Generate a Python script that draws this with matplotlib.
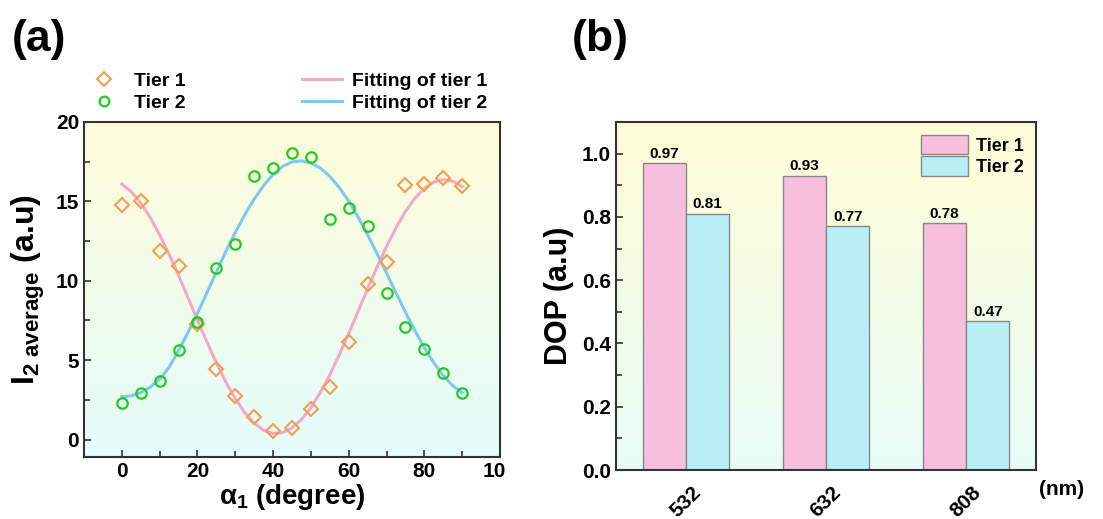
import numpy as np
import matplotlib
matplotlib.use("Agg")
import matplotlib.pyplot as plt
from matplotlib.patches import Rectangle
from matplotlib.lines import Line2D
from matplotlib.ticker import MultipleLocator, FormatStrFormatter

plt.rcParams['font.family'] = ['Liberation Sans', 'DejaVu Sans']
plt.rcParams['font.weight'] = 'bold'
plt.rcParams['mathtext.fontset'] = 'custom'
plt.rcParams['mathtext.rm'] = 'Liberation Sans:bold'
plt.rcParams['mathtext.bf'] = 'Liberation Sans:bold'
plt.rcParams['mathtext.it'] = 'Liberation Sans:bold'

# ---------------- data: panel (a) ----------------
angle = [0, 5, 10, 15, 20, 25, 30, 35, 40, 45, 50, 55, 60, 65, 70, 75, 80, 85, 90]
tier1 = [14.8, 15.0, 11.9, 10.9, 7.3, 4.47, 2.77, 1.43, 0.52, 0.73, 1.93, 3.29,
         6.16, 9.81, 11.2, 16.0, 16.1, 16.5, 15.96]
tier2 = [2.3, 2.96, 3.67, 5.64, 7.38, 10.78, 12.33, 16.6, 17.07, 18.07, 17.8, 13.9,
         14.57, 13.44, 9.22, 7.06, 5.72, 4.21, 2.96]

fit_angle = [0, 2.5, 5, 7.5, 10, 12.5, 15, 17.5, 20, 22.5, 25, 27.5, 30, 32.5, 35,
             37.5, 40, 42.5, 45, 47.5, 50, 52.5, 55, 57.5, 60, 62.5, 65, 67.5, 70,
             72.5, 75, 77.5, 80, 82.5, 85, 87.5, 90]
fit_tier1 = [16.09, 15.60, 14.89, 13.98, 12.89, 11.66, 10.33, 8.93, 7.52, 6.14, 4.83,
             3.62, 2.57, 1.69, 1.02, 0.58, 0.38, 0.43, 0.73, 1.26, 2.01, 2.97, 4.08,
             5.34, 6.69, 8.09, 9.50, 10.87, 12.16, 13.34, 14.36, 15.20, 15.82, 16.22,
             16.37, 16.27, 15.93]
fit_tier2 = [2.70, 2.75, 2.95, 3.30, 3.80, 4.55, 5.60, 6.75, 7.95, 9.25, 10.55, 11.85,
             13.05, 14.15, 15.15, 16.00, 16.70, 17.20, 17.48, 17.55, 17.42, 17.10,
             16.57, 15.87, 15.01, 14.00, 12.89, 11.70, 10.48, 9.23, 8.01, 6.85, 5.78,
             4.83, 4.03, 3.39, 2.95]

# ---------------- data: panel (b) ----------------
wavelengths = ['532', '632', '808']
dop_tier1 = [0.97, 0.93, 0.78]
dop_tier2 = [0.81, 0.77, 0.47]

fig = plt.figure(figsize=(11.03, 5.19), dpi=100)


def gradient_bg(ax, top, bottom):
    t = np.array(top) / 255.0
    b = np.array(bottom) / 255.0
    f = np.linspace(0, 1, 256)[:, None]
    img = (t[None, :] * (1 - f) + b[None, :] * f)[:, None, :]
    ax.imshow(img, extent=[0, 1, 0, 1], transform=ax.transAxes, aspect='auto',
              zorder=0, interpolation='bicubic')


def style_axes(ax):
    for s in ax.spines.values():
        s.set_linewidth(1.5)
        s.set_color('#333333')
        s.set_zorder(5)


# ---------------- panel (a) ----------------
ax1 = fig.add_axes([0.0762, 0.1195, 0.3771, 0.6455])
gradient_bg(ax1, (255, 253, 218), (228, 252, 252))
ax1.plot(fit_angle, fit_tier1, color='#f4a8cc', lw=2.2, zorder=2)
ax1.plot(fit_angle, fit_tier2, color='#80c8ee', lw=2.2, zorder=2)
ax1.plot(angle, tier1, linestyle='none', marker='D', markersize=7.5,
         markerfacecolor='none', markeredgecolor='#f0a050', markeredgewidth=1.5, zorder=3)
ax1.plot(angle, tier2, linestyle='none', marker='o', markersize=7.5,
         markerfacecolor='none', markeredgecolor='#22cc22', markeredgewidth=1.6, zorder=3)
ax1.set_xlim(-10, 100)
ax1.set_ylim(-1.1, 20)
ax1.xaxis.set_major_locator(MultipleLocator(20))
ax1.xaxis.set_minor_locator(MultipleLocator(10))
ax1.yaxis.set_major_locator(MultipleLocator(5))
ax1.yaxis.set_minor_locator(MultipleLocator(2.5))
ax1.tick_params(which='both', direction='in', top=False, right=False, width=1.2,
                labelsize=15, color='#333333')
ax1.tick_params(which='major', length=5)
ax1.tick_params(which='minor', length=4)
for lab in ax1.get_xticklabels() + ax1.get_yticklabels():
    lab.set_fontweight('bold')
style_axes(ax1)
ax1.set_xlabel(r'$\alpha_1$ (degree)', fontsize=20, fontweight='bold', labelpad=1)
ax1.set_ylabel(r'$\mathbf{I_{2\ average}}$ (a.u)', fontsize=23, fontweight='bold', labelpad=6)

handles = [
    Line2D([], [], linestyle='none', marker='D', markersize=7, markerfacecolor='none',
           markeredgecolor='#f0a050', markeredgewidth=1.5),
    Line2D([], [], linestyle='none', marker='o', markersize=7, markerfacecolor='none',
           markeredgecolor='#22cc22', markeredgewidth=1.6),
    Line2D([], [], color='#f4a8cc', lw=2.2),
    Line2D([], [], color='#80c8ee', lw=2.2),
]
labels = ['Tier 1', 'Tier 2', 'Fitting of tier 1', 'Fitting of tier 2']
ax1.legend(handles, labels, ncol=2, frameon=False, loc='lower left',
           bbox_to_anchor=(0.0, 1.03), prop={'weight': 'bold', 'size': 14},
           columnspacing=6.0, handlelength=2.06, handletextpad=0.5, labelspacing=0.24,
           borderaxespad=0.0, borderpad=0.0)

fig.text(0.011, 0.923, '(a)', fontsize=32, fontweight='bold', va='center', ha='left')

# ---------------- panel (b) ----------------
ax2 = fig.add_axes([616 / 1103, 0.0944, (1036 - 616) / 1103, 0.6705])
gradient_bg(ax2, (255, 253, 215), (232, 252, 248))
x = np.arange(len(wavelengths))
w = 0.31
b1 = ax2.bar(x - w / 2, dop_tier1, width=w, color='#f7bede', edgecolor='#888888',
             linewidth=1.0, label='Tier 1', zorder=2)
b2 = ax2.bar(x + w / 2, dop_tier2, width=w, color='#b8eef6', edgecolor='#888888',
             linewidth=1.0, label='Tier 2', zorder=2)
for bars, vals in ((b1, dop_tier1), (b2, dop_tier2)):
    for r, v in zip(bars, vals):
        ax2.text(r.get_x() + r.get_width() / 2, v + 0.008, f'{v:.2f}', ha='center',
                 va='bottom', fontsize=11, fontweight='bold', zorder=4)
ax2.set_xlim(-0.5, 2.5)
ax2.set_ylim(0, 1.1)
ax2.yaxis.set_major_locator(MultipleLocator(0.2))
ax2.yaxis.set_minor_locator(MultipleLocator(0.1))
ax2.yaxis.set_major_formatter(FormatStrFormatter('%.1f'))
ax2.set_xticks(x)
ax2.set_xticklabels(wavelengths, rotation=45, ha='center', fontsize=15, fontweight='bold')
ax2.tick_params(axis='x', length=0, pad=9)
ax2.tick_params(axis='y', which='both', direction='in', width=1.2, labelsize=15,
                color='#333333')
ax2.tick_params(axis='y', which='major', length=5)
ax2.tick_params(axis='y', which='minor', length=4)
for lab in ax2.get_yticklabels():
    lab.set_fontweight('bold')
style_axes(ax2)
ax2.set_ylabel('DOP (a.u)', fontsize=22, fontweight='bold', labelpad=6)
ax2.legend(loc='upper right', frameon=False, prop={'weight': 'bold', 'size': 13},
           handlelength=2.6, handleheight=1.3, handletextpad=0.4, labelspacing=0.1,
           borderaxespad=0.3)
fig.text(0.962, 0.056, '(nm)', fontsize=15, fontweight='bold', ha='center', va='center')
fig.text(0.518, 0.923, '(b)', fontsize=32, fontweight='bold', va='center', ha='left')

# the reference crops the last x tick label of panel (a)
fig.canvas.draw()
clip = Rectangle((0, 0), 506, 519, transform=None)
for lab in ax1.get_xticklabels():
    lab.set_clip_path(clip)

fig.savefig('out.png', dpi=100)
